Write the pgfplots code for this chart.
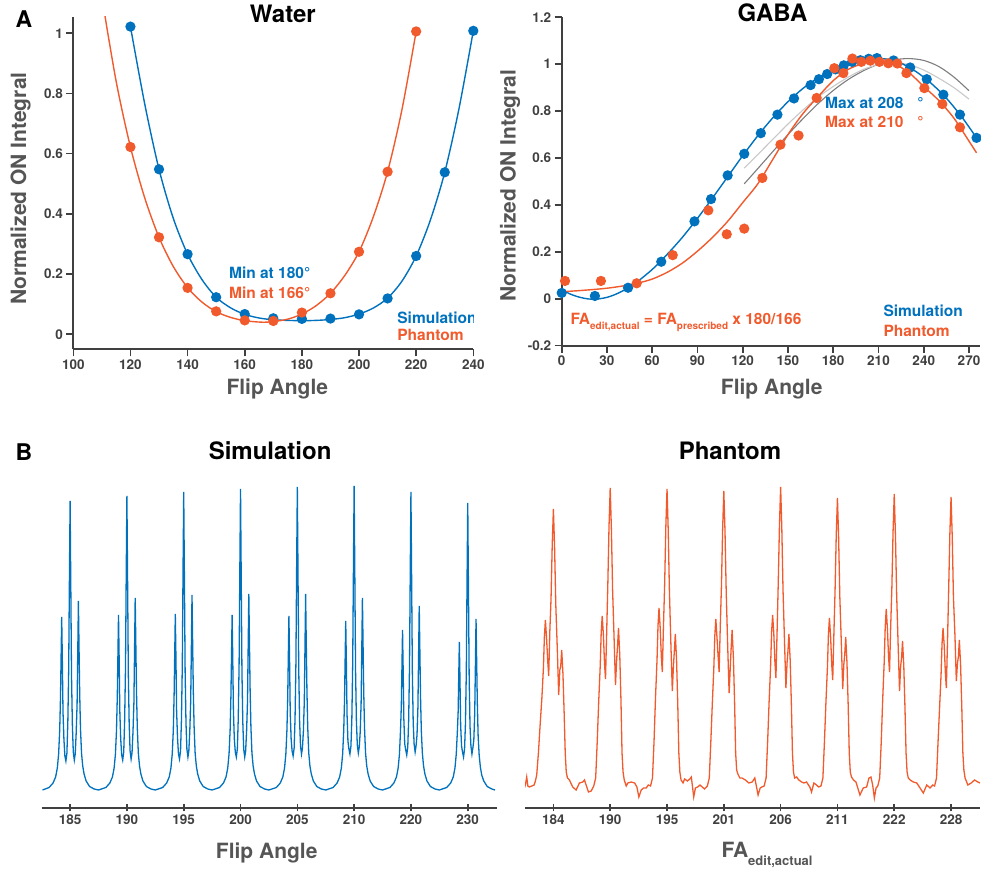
\documentclass[border=0pt]{standalone}
\usepackage{fontspec}
\setmainfont{TeX Gyre Heros}
\usepackage{pgfplots}
\pgfplotsset{compat=1.18}
\definecolor{simblue}{RGB}{0,114,189}
\definecolor{phorange}{RGB}{240,90,45}
\definecolor{axgray}{RGB}{64,64,64}
\definecolor{labgray}{RGB}{85,85,85}
\definecolor{fitdark}{RGB}{125,125,125}
\definecolor{fitlight}{RGB}{200,200,200}

\newcommand{\annfont}{\fontsize{15.5bp}{18bp}\selectfont\bfseries}

\pgfplotsset{
  panel/.style={
    scale only axis, anchor=south west,
    axis lines=left, axis line style={-, line width=1.8bp, draw=axgray},
    tick align=outside, major tick length=7bp,
    tick style={line width=1.6bp, draw=axgray},
    ticklabel style={font=\fontsize{13.5bp}{16bp}\selectfont\bfseries, text=axgray},
    /pgf/number format/assume math mode=true,
    label style={font=\fontsize{21bp}{25bp}\selectfont\bfseries, text=labgray},
    title style={font=\fontsize{24bp}{28bp}\selectfont\bfseries, anchor=center, yshift=0pt},
    every axis plot/.append style={line width=1.4bp},
  },
  spec/.style={
    panel, axis y line=none, axis x line=bottom,
    axis line style={-, line width=2.2bp, draw=axgray},
    xmin=-50, xmax=751, ymin=0, ymax=3.25, width=455bp, height=325bp,
    xtick={0,100,200,300,400,500,600,700},
    every axis plot/.append style={line width=1.3bp},
  },
  pts/.style={only marks, mark=*, mark size=4.4bp, mark options={fill=#1, draw=#1}, draw=#1},
}

\begin{document}
\begin{tikzpicture}[x=1bp,y=1bp]
\useasboundingbox (0,0) rectangle (981,873);

% ---------- A: Water ----------
\begin{axis}[panel, at={(73.3bp,523.7bp)}, width=400bp, height=332.6bp,
  xmin=100, xmax=240, ymin=-0.05, ymax=1.055,
  xtick={100,120,140,160,180,200,220,240}, ytick={0,0.2,0.4,0.6,0.8,1},
  title=Water, title style={at={(axis description cs:0.524,0.99)}},
  xlabel={Flip Angle}, xlabel style={at={(axis description cs:0.51,-0.119)}, anchor=center},
  ylabel={Normalized ON Integral}, ylabel style={at={(axis description cs:-0.1315,0.483)}, anchor=center}]
\addplot[simblue, smooth] coordinates {(120,1.022)(125,0.765)(130,0.548)(135,0.385)(140,0.266)(145,0.182)(150,0.123)(155,0.088)(160,0.066)(165,0.054)(170,0.048)(175,0.046)(180,0.045)(185,0.046)(190,0.049)(195,0.055)(200,0.067)(205,0.087)(210,0.12)(215,0.176)(220,0.26)(225,0.38)(230,0.538)(235,0.75)(240,1.008)};
\addplot[phorange, smooth] coordinates {(110,1.12)(115,0.84)(120,0.622)(125,0.453)(130,0.322)(135,0.225)(140,0.155)(145,0.107)(150,0.075)(155,0.056)(160,0.045)(166,0.04)(170,0.042)(175,0.05)(180,0.067)(185,0.095)(190,0.136)(195,0.195)(200,0.274)(205,0.39)(210,0.54)(215,0.745)(220,1.006)};
\addplot[pts=simblue] coordinates {(120,1.022)(130,0.548)(140,0.266)(150,0.123)(160,0.067)(170,0.053)(180,0.051)(190,0.052)(200,0.066)(210,0.119)(220,0.26)(230,0.538)(240,1.008)};
\addplot[pts=phorange] coordinates {(120,0.622)(130,0.322)(140,0.154)(150,0.076)(160,0.046)(170,0.044)(180,0.072)(190,0.136)(200,0.274)(210,0.540)(220,1.006)};
\node[anchor=west, text=simblue, font=\annfont] at (axis cs:153.3,0.205) {Min at 180°};
\node[anchor=west, text=phorange, font=\annfont] at (axis cs:153.3,0.137) {Min at 166°};
\node[anchor=west, text=simblue, font=\annfont] at (axis cs:212.2,0.054) {Simulation};
\node[anchor=west, text=phorange, font=\annfont] at (axis cs:212.2,-0.002) {Phantom};
\end{axis}

% ---------- A: GABA ----------
\begin{axis}[panel, at={(561.7bp,527.3bp)}, width=418.3bp, height=328.4bp,
  xmin=0, xmax=277.3, ymin=-0.2, ymax=1.2,
  xtick={0,30,60,90,120,150,180,210,240,270}, ytick={-0.2,0,0.2,0.4,0.6,0.8,1,1.2},
  title=GABA, title style={at={(axis description cs:0.504,0.995)}},
  xlabel={Flip Angle}, xlabel style={at={(axis description cs:0.502,-0.132)}, anchor=center},
  ylabel={Normalized ON Integral}, ylabel style={at={(axis description cs:-0.1236,0.487)}, anchor=center}]
\addplot[fitdark, line width=1.1bp, smooth] coordinates {(121,0.49)(130,0.555)(140,0.628)(150,0.70)(160,0.768)(170,0.832)(180,0.888)(190,0.935)(200,0.972)(210,1.0)(220,1.018)(230,1.024)(240,1.016)(250,0.99)(260,0.945)(270,0.887)};
\addplot[fitlight, line width=1.1bp, smooth] coordinates {(121,0.557)(130,0.615)(140,0.68)(150,0.745)(160,0.805)(170,0.86)(180,0.905)(190,0.945)(200,0.978)(210,0.998)(220,1.006)(230,0.998)(240,0.975)(250,0.94)(260,0.9)(270,0.851)};
\addplot[simblue, smooth] coordinates {(0,0.04)(5,0.022)(10,0.01)(15,0.002)(20,-0.002)(25,0.0)(30,0.006)(35,0.017)(40,0.032)(45,0.05)(50,0.072)(60,0.125)(70,0.19)(80,0.262)(90,0.343)(100,0.43)(110,0.52)(120,0.61)(130,0.695)(140,0.772)(150,0.84)(160,0.897)(170,0.942)(180,0.978)(190,1.004)(200,1.02)(208,1.025)(215,1.022)(225,1.004)(235,0.968)(245,0.918)(255,0.855)(265,0.777)(275,0.686)};
\addplot[phorange, smooth] coordinates {(0,0.03)(10,0.034)(20,0.039)(30,0.045)(40,0.054)(50,0.066)(60,0.084)(70,0.113)(80,0.152)(90,0.203)(100,0.262)(110,0.33)(120,0.41)(130,0.49)(140,0.595)(150,0.70)(160,0.79)(170,0.862)(180,0.93)(190,0.978)(200,1.003)(210,1.012)(220,1.002)(230,0.965)(240,0.905)(250,0.845)(260,0.77)(270,0.672)(275,0.622)};
\addplot[pts=simblue] coordinates {(0,0.025)(22,0.012)(44,0.047)(66,0.158)(88,0.33)(99,0.425)(110,0.526)(121,0.618)(132,0.706)(143,0.785)(154,0.854)(165,0.911)(170.5,0.936)(176,0.958)(181.5,0.978)(187,0.995)(192.5,1.010)(198,1.017)(203.5,1.023)(209,1.026)(220,1.016)(231,0.986)(242,0.936)(253,0.87)(264,0.785)(275,0.686)};
\addplot[pts=phorange] coordinates {(2.2,0.076)(26,0.076)(49.7,0.066)(73.6,0.186)(97.2,0.377)(109.4,0.275)(121,0.299)(133,0.515)(145,0.657)(157,0.696)(169,0.856)(180.7,0.983)(186.7,0.962)(192.7,1.024)(198.6,1.01)(204.6,1.015)(210.6,1.01)(216.5,1.004)(222.5,1.003)(228.5,0.962)(240.4,0.898)(252.3,0.83)(264,0.731)};
\node[anchor=west, text=simblue, font=\annfont] at (axis cs:172.3,0.836) {Max at 208\hspace{0.9em}°};
\node[anchor=west, text=phorange, font=\annfont] at (axis cs:172.3,0.755) {Max at 210\hspace{0.9em}°};
\node[anchor=west, text=phorange, font=\annfont] at (axis cs:3.5,-0.102) {FA\raisebox{-0.35em}{\fontsize{10bp}{12bp}\selectfont edit,actual} = FA\raisebox{-0.35em}{\fontsize{10bp}{12bp}\selectfont prescribed} x 180/166};
\node[anchor=west, text=simblue, font=\annfont] at (axis cs:211,-0.052) {Simulation};
\node[anchor=west, text=phorange, font=\annfont] at (axis cs:211,-0.137) {Phantom};
\end{axis}

% ---------- B: Simulation spectra ----------
\begin{axis}[spec, at={(41.7bp,65bp)},
  xticklabels={185,190,195,200,205,210,220,230},
  title=Simulation, title style={at={(axis description cs:0.502,1.08)}},
  xlabel={Flip Angle}, xlabel style={at={(axis description cs:0.4945,-0.1385)}, anchor=center}]
\addplot[simblue] coordinates {
(-48.5,0.18)(-37,0.205)(-30,0.25)(-25.5,0.31)(-22.5,0.40)(-20.2,0.54)(-18.3,0.78)(-16.9,1.11)(-15.8,1.53)(-14.8,1.91)(-13.7,1.49)(-12.5,0.96)(-10.9,0.69)(-9.2,0.52)(-7.4,0.47)(-5.6,0.55)(-4.0,0.86)(-2.5,1.38)(-1.2,2.30)(0,3.07)(1.2,2.24)(2.5,1.32)(4.0,0.83)(5.6,0.56)(7.4,0.48)(9.0,0.54)(10.7,0.75)(12.3,1.04)(13.6,1.61)(14.6,2.07)(15.7,1.61)(16.9,1.14)(18.3,0.79)(20.1,0.55)(22.2,0.42)(24.6,0.34)(28.2,0.27)(34.3,0.215)(42.3,0.19)(50,0.18)
(63,0.205)(70,0.25)(74.5,0.31)(77.5,0.40)(79.8,0.54)(81.7,0.78)(83.1,1.12)(84.2,1.54)(85.2,1.93)(86.3,1.51)(87.5,0.97)(89.1,0.69)(90.8,0.53)(92.6,0.48)(94.4,0.56)(96,0.87)(97.5,1.40)(98.8,2.34)(100,3.12)(101.2,2.28)(102.5,1.34)(104,0.84)(105.6,0.57)(107.4,0.49)(109,0.55)(110.7,0.76)(112.3,1.05)(113.6,1.64)(114.6,2.10)(115.7,1.64)(116.9,1.16)(118.3,0.80)(120.1,0.55)(122.2,0.42)(124.6,0.34)(128.2,0.27)(134.3,0.215)(142.3,0.19)(150,0.18)
(163,0.205)(170,0.25)(174.5,0.31)(177.5,0.40)(179.8,0.54)(181.7,0.78)(183.1,1.13)(184.2,1.55)(185.2,1.94)(186.3,1.51)(187.5,0.97)(189.1,0.70)(190.8,0.54)(192.6,0.49)(194.4,0.57)(196,0.88)(197.5,1.42)(198.8,2.37)(200,3.16)(201.2,2.31)(202.5,1.36)(204,0.85)(205.6,0.59)(207.4,0.51)(209,0.57)(210.7,0.77)(212.3,1.07)(213.6,1.66)(214.6,2.13)(215.7,1.66)(216.9,1.17)(218.3,0.81)(220.1,0.55)(222.2,0.42)(224.6,0.34)(228.2,0.27)(234.3,0.215)(242.3,0.19)(250,0.18)
(263,0.205)(270,0.25)(274.5,0.31)(277.5,0.40)(279.8,0.54)(281.7,0.78)(283.1,1.12)(284.2,1.54)(285.2,1.93)(286.3,1.51)(287.5,0.97)(289.1,0.69)(290.8,0.56)(292.6,0.51)(294.4,0.59)(296,0.89)(297.5,1.44)(298.8,2.39)(300,3.19)(301.2,2.33)(302.5,1.37)(304,0.86)(305.6,0.59)(307.4,0.51)(309,0.57)(310.7,0.77)(312.3,1.07)(313.6,1.67)(314.6,2.14)(315.7,1.67)(316.9,1.18)(318.3,0.81)(320.1,0.55)(322.2,0.42)(324.6,0.34)(328.2,0.27)(334.3,0.215)(342.3,0.19)(350,0.18)
(363,0.205)(370,0.25)(374.5,0.31)(377.5,0.40)(379.8,0.54)(381.7,0.78)(383.1,1.11)(384.2,1.54)(385.2,1.92)(386.3,1.50)(387.5,0.96)(389.1,0.69)(390.8,0.57)(392.6,0.52)(394.4,0.60)(396,0.90)(397.5,1.44)(398.8,2.41)(400,3.21)(401.2,2.34)(402.5,1.38)(404,0.87)(405.6,0.62)(407.4,0.54)(409,0.60)(410.7,0.77)(412.3,1.07)(413.6,1.67)(414.6,2.14)(415.7,1.67)(416.9,1.18)(418.3,0.81)(420.1,0.55)(422.2,0.42)(424.6,0.34)(428.2,0.27)(434.3,0.215)(442.3,0.19)(450,0.18)
(463,0.205)(470,0.25)(474.5,0.31)(477.5,0.40)(479.8,0.54)(481.7,0.78)(483.1,1.08)(484.2,1.50)(485.2,1.87)(486.3,1.46)(487.5,0.94)(489.1,0.67)(490.8,0.59)(492.6,0.54)(494.4,0.62)(496,0.90)(497.5,1.45)(498.8,2.42)(500,3.22)(501.2,2.35)(502.5,1.38)(504,0.87)(505.6,0.63)(507.4,0.55)(509,0.61)(510.7,0.76)(512.3,1.05)(513.6,1.64)(514.6,2.10)(515.7,1.64)(516.9,1.16)(518.3,0.80)(520.1,0.55)(522.2,0.42)(524.6,0.34)(528.2,0.27)(534.3,0.215)(542.3,0.19)(550,0.18)
(563,0.205)(570,0.25)(574.5,0.31)(577.5,0.40)(579.8,0.54)(581.7,0.78)(583.1,1.03)(584.2,1.42)(585.2,1.78)(586.3,1.39)(587.5,0.89)(589.1,0.64)(590.8,0.58)(592.6,0.53)(594.4,0.61)(596,0.88)(597.5,1.42)(598.8,2.37)(600,3.16)(601.2,2.31)(602.5,1.36)(604,0.85)(605.6,0.64)(607.4,0.56)(609,0.62)(610.7,0.73)(612.3,1.01)(613.6,1.58)(614.6,2.02)(615.7,1.58)(616.9,1.11)(618.3,0.77)(620.1,0.55)(622.2,0.42)(624.6,0.34)(628.2,0.27)(634.3,0.215)(642.3,0.19)(650,0.18)
(663,0.205)(670,0.25)(674.5,0.31)(677.5,0.40)(679.8,0.54)(681.7,0.76)(683.1,0.96)(684.2,1.33)(685.2,1.66)(686.3,1.29)(687.5,0.83)(689.1,0.62)(690.8,0.56)(692.6,0.51)(694.4,0.59)(696,0.85)(697.5,1.37)(698.8,2.29)(700,3.05)(701.2,2.23)(702.5,1.31)(704,0.82)(705.6,0.62)(707.4,0.54)(709,0.60)(710.7,0.68)(712.3,0.95)(713.6,1.47)(714.6,1.89)(715.7,1.47)(716.9,1.04)(718.3,0.72)(720.1,0.53)(722.2,0.41)(724.6,0.33)(728.2,0.27)(734.3,0.215)(742.3,0.19)(748,0.18)};
\end{axis}

% ---------- B: Phantom spectra ----------
\begin{axis}[spec, at={(525bp,65bp)},
  xticklabels={184,190,195,201,206,211,222,228},
  title=Phantom, title style={at={(axis description cs:0.4505,1.08)}},
  xlabel={FA\raisebox{-0.35em}{\fontsize{13bp}{15bp}\selectfont edit,actual}},
  xlabel style={at={(axis description cs:0.532,-0.145)}, anchor=center}]
\addplot[phorange] coordinates {
(-51,0.20)(-49,0.24)(-47,0.31)(-45,0.22)(-42.3,0.21)(-38,0.22)(-34,0.23)(-31.7,0.27)
(-29.4,0.33)(-26.4,0.55)(-23.4,0.83)(-20.3,1.10)(-17.6,1.40)(-15.9,1.71)(-14.1,1.88)(-12.0,1.69)(-10.0,1.47)(-8.3,1.32)(-6.3,1.77)(-4.2,2.09)(-2.1,2.63)(0,2.99)(2.1,2.60)(4.2,2.03)(6.9,1.58)(9.3,1.13)(11.3,1.38)(12.9,1.42)(14.6,1.58)(16.8,1.34)(18.9,0.95)(20.8,0.55)(22.6,0.36)(24.7,0.30)(28.2,0.28)
(34,0.21)(40,0.18)(45.8,0.25)(51.7,0.26)(54.7,0.28)(57.6,0.23)(61.7,0.16)(66.5,0.17)
(71,0.22)(74.4,0.30)(77.1,0.66)(79.7,1.06)(82.4,1.42)(84.1,1.75)(85.9,1.92)(88,1.73)(90,1.44)(91.7,1.29)(93.7,1.74)(95.8,2.24)(97.9,2.82)(100,3.20)(102.1,2.78)(104.2,2.18)(106.9,1.68)(109.3,1.23)(111.3,1.48)(112.9,1.62)(114.6,1.80)(116.8,1.53)(118.9,1.08)(120.8,0.55)(122.6,0.36)(124.7,0.28)(128.2,0.22)
(131,0.25)(137,0.26)(143,0.25)(147,0.21)(150.4,0.11)(154.6,0.18)(158.7,0.20)(163.4,0.20)(167,0.23)
(171,0.22)(174.4,0.30)(177.1,0.66)(179.7,1.10)(182.4,1.48)(184.1,1.82)(185.9,2.00)(188,1.80)(190,1.51)(191.7,1.36)(193.7,1.81)(195.8,2.23)(197.9,2.81)(200,3.19)(202.1,2.78)(204.2,2.17)(206.9,1.62)(209.3,1.17)(211.3,1.42)(212.9,1.57)(214.6,1.74)(216.8,1.48)(218.9,1.04)(220.8,0.55)(222.6,0.36)(224.7,0.28)(228.2,0.25)
(231,0.29)(236,0.27)(240,0.29)(242.8,0.31)(247,0.11)(250,0.20)(254,0.21)(258,0.23)(262,0.21)(266,0.19)
(271,0.22)(274.4,0.30)(277.1,0.66)(279.7,1.04)(282.4,1.40)(284.1,1.72)(285.9,1.89)(288,1.70)(290,1.51)(291.7,1.36)(293.7,1.81)(295.8,2.22)(297.9,2.79)(300,3.17)(302.1,2.76)(304.2,2.16)(306.9,1.60)(309.3,1.15)(311.3,1.40)(312.9,1.60)(314.6,1.78)(316.8,1.51)(318.9,1.07)(320.8,0.55)(322.6,0.38)(324.7,0.34)(328.2,0.30)
(332,0.30)(338,0.28)(344,0.25)(350,0.26)(354.5,0.30)(360.3,0.13)(364,0.20)(367,0.21)
(371,0.22)(374.4,0.30)(377.1,0.66)(379.7,1.06)(382.4,1.43)(384.1,1.76)(385.9,1.93)(388,1.74)(390,1.45)(391.7,1.30)(393.7,1.75)(395.8,2.25)(397.9,2.82)(400,3.21)(402.1,2.79)(404.2,2.18)(406.9,1.65)(409.3,1.20)(411.3,1.45)(412.9,1.57)(414.6,1.74)(416.8,1.48)(418.9,1.04)(420.8,0.55)(422.6,0.36)(424.7,0.30)(428.2,0.31)
(432,0.28)(437,0.26)(441,0.25)(445.6,0.26)(451.4,0.21)(454.4,0.16)(458.5,0.25)(463.2,0.23)(467,0.21)
(471,0.22)(474.4,0.30)(477.1,0.66)(479.7,1.05)(482.4,1.41)(484.1,1.73)(485.9,1.90)(488,1.71)(490,1.43)(491.7,1.28)(493.7,1.73)(495.8,2.17)(497.9,2.73)(500,3.10)(502.1,2.70)(504.2,2.11)(506.9,1.64)(509.3,1.19)(511.3,1.44)(512.9,1.54)(514.6,1.71)(516.8,1.45)(518.9,1.03)(520.8,0.55)(522.6,0.36)(524.7,0.31)(528.2,0.28)
(532.6,0.26)(539.6,0.13)(545.4,0.20)(551.4,0.21)(555.5,0.30)(559,0.31)(562,0.23)(565,0.10)(568,0.20)
(571,0.22)(574.4,0.30)(577.1,0.66)(579.7,1.09)(582.4,1.47)(584.1,1.81)(585.9,1.99)(588,1.79)(590,1.51)(591.7,1.36)(593.7,1.81)(595.8,2.20)(597.9,2.76)(600,3.14)(602.1,2.73)(604.2,2.14)(606.9,1.62)(609.3,1.17)(611.3,1.42)(612.9,1.50)(614.6,1.67)(616.8,1.42)(618.9,1.00)(620.8,0.55)(622.6,0.36)(624.7,0.30)
(628,0.28)(633.6,0.26)(639.6,0.25)(645.4,0.20)(651.2,0.15)(657.2,0.23)(663,0.20)(667.8,0.23)
(671,0.22)(674.4,0.30)(677.1,0.66)(679.7,0.99)(682.4,1.33)(684.1,1.64)(685.9,1.80)(688,1.62)(690,1.35)(691.7,1.20)(693.7,1.65)(695.8,2.18)(697.9,2.74)(700,3.11)(702.1,2.71)(704.2,2.11)(706.9,1.72)(709.3,1.27)(711.3,1.45)(712.9,1.51)(714.6,1.68)(716.8,1.43)(718.9,1.01)(720.8,0.55)(722.6,0.38)(724.7,0.30)
(729.6,0.23)(735.4,0.25)(741.3,0.28)(747.2,0.26)(751,0.25)};
\end{axis}

\node[font=\fontsize{23bp}{26bp}\selectfont\bfseries] at (24bp,853.5bp) {A};
\node[font=\fontsize{23bp}{26bp}\selectfont\bfseries] at (24bp,421bp) {B};
\end{tikzpicture}
\end{document}
